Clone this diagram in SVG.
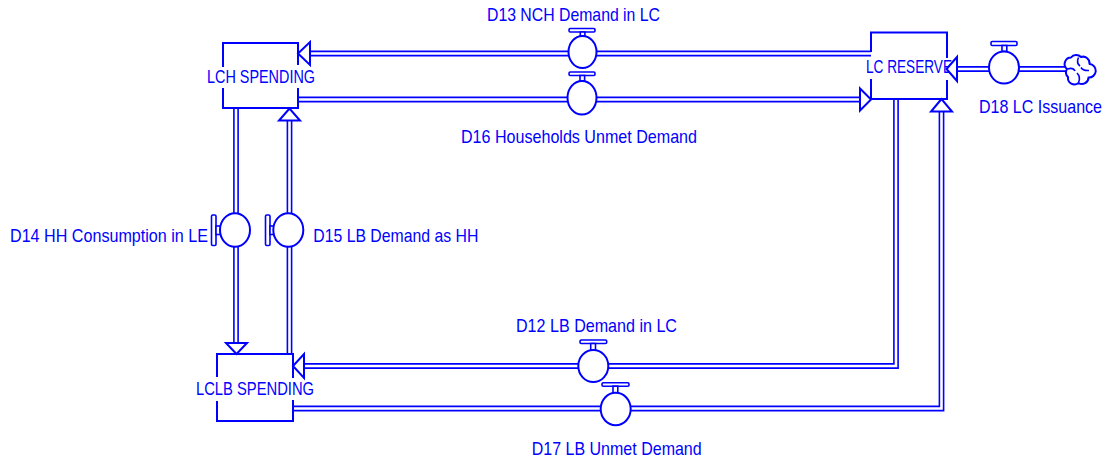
<svg xmlns="http://www.w3.org/2000/svg" width="1108" height="461" viewBox="0 0 1108 461">
<defs>
<style>
.pipeo{fill:none;stroke:#0000ff;stroke-width:5.8;stroke-linejoin:miter}
.pipei{fill:none;stroke:#ffffff;stroke-width:2.6;stroke-linejoin:miter}
.box{fill:none;stroke:#0000ff;stroke-width:2}
.arr{fill:#ffffff;stroke:#0000ff;stroke-width:2;stroke-linejoin:miter}
.vc{fill:#ffffff;stroke:#0000ff;stroke-width:2}
.vh{fill:#ffffff;stroke:#0000ff;stroke-width:1.6}
.cloud{fill:#ffffff;stroke:#0000ff;stroke-width:2;stroke-linejoin:round}
text{font-family:"Liberation Sans",Arial,sans-serif;font-size:18.5px;fill:#0000ff}
</style>
</defs>
<rect width="1108" height="461" fill="#ffffff"/>
<g id="connectors">
  <path id="p-d13" class="pipeo" d="M871,53.5 H310"/>
  <path class="pipei" d="M871,53.5 H310"/>
  <path id="p-d16" class="pipeo" d="M298,99.5 H860"/>
  <path class="pipei" d="M298,99.5 H860"/>
  <path id="p-d18" class="pipeo" d="M1067,69 H957"/>
  <path class="pipei" d="M1067,69 H957"/>
  <path id="p-d14" class="pipeo" d="M236,108.5 V343"/>
  <path class="pipei" d="M236,108.5 V343"/>
  <path id="p-d15" class="pipeo" d="M289.5,354 V120.5"/>
  <path class="pipei" d="M289.5,354 V120.5"/>
  <path id="p-d12" class="pipeo" d="M896,99 V366 H304"/>
  <path class="pipei" d="M896,99 V366 H304"/>
  <path id="p-d17" class="pipeo" d="M293,408.5 H941.5 V111.5"/>
  <path class="pipei" d="M293,408.5 H941.5 V111.5"/>
</g>
<g id="lch-spending">
  <path class="box" d="M223,67 V43 H298 V65 M298,88 V108 H223 V88"/>
  <text x="207" y="82.7" textLength="108" lengthAdjust="spacingAndGlyphs">LCH SPENDING</text>
</g>
<g id="lc-reserve">
  <path class="box" d="M871,52 V32.5 H947 V58 M947,80 V99 H871 V79"/>
  <text x="866" y="72.7" textLength="86" lengthAdjust="spacingAndGlyphs">LC RESERVE</text>
</g>
<g id="lclb-spending">
  <path class="box" d="M217,377 V354 H293 V378 M293,400 V421 H217 V401"/>
  <text x="196" y="395" textLength="118" lengthAdjust="spacingAndGlyphs">LCLB SPENDING</text>
</g>
<g id="arrowheads">
  <polygon class="arr" points="298,53.5 310,42 310,65"/>
  <polygon class="arr" points="871,99.5 860,88.5 860,110.5"/>
  <polygon class="arr" points="946.5,69 957,57 957,81"/>
  <polygon class="arr" points="236.5,354 226,343 247,343"/>
  <polygon class="arr" points="289.5,108.5 279,120.5 300,120.5"/>
  <polygon class="arr" points="293,366 304,354 304,378"/>
  <polygon class="arr" points="941.5,99 931,111.5 952,111.5"/>
</g>
<g id="cloud-d18">
  <path class="cloud" d="M1067,69 A6.5,6.5 0 0 1 1071,57.5 A6.5,6.5 0 0 1 1081,57 A6.5,6.5 0 0 1 1089.5,64 A6.5,6.5 0 0 1 1088.5,77.5 A6.5,6.5 0 0 1 1078.5,83 A6.5,6.5 0 0 1 1068,77 A6.5,6.5 0 0 1 1067,69 Z"/>
  <path fill="none" stroke="#0000ff" stroke-width="1.6" d="M1078.5,57.5 Q1076,63 1080,66 M1067.5,69 Q1073,67 1075,71 M1089,70.5 Q1083,71 1081,67.5 M1078.5,82.5 Q1081,77 1077,73"/>
</g>
<g id="valve-d13">
  <rect class="vh" x="569" y="28.5" width="26" height="3.5" rx="1.2"/>
  <rect class="vh" x="580.3" y="32" width="4.6" height="4.5"/>
  <ellipse class="vc" cx="582.5" cy="52" rx="14" ry="16"/>
  <text x="487" y="20.7" textLength="173" lengthAdjust="spacingAndGlyphs">D13 NCH Demand in LC</text>
</g>
<g id="valve-d16">
  <rect class="vh" x="569" y="72" width="26" height="3.5" rx="1.2"/>
  <rect class="vh" x="580" y="75.5" width="4.6" height="5.5"/>
  <ellipse class="vc" cx="582" cy="97.8" rx="14.5" ry="16.8"/>
  <text x="461" y="142.7" textLength="236" lengthAdjust="spacingAndGlyphs">D16 Households Unmet Demand</text>
</g>
<g id="valve-d18">
  <rect class="vh" x="991" y="41.5" width="26" height="4" rx="1.2"/>
  <rect class="vh" x="1002" y="45.5" width="4.8" height="6"/>
  <ellipse class="vc" cx="1004" cy="67.5" rx="15" ry="16"/>
  <text x="979" y="113.3" textLength="123" lengthAdjust="spacingAndGlyphs">D18 LC Issuance</text>
</g>
<g id="valve-d14">
  <rect class="vh" x="211.5" y="215" width="4.5" height="30.5" rx="1.2"/>
  <rect class="vh" x="216" y="226" width="4.5" height="8.5"/>
  <ellipse class="vc" cx="235" cy="230" rx="15" ry="16.7"/>
  <text x="10" y="241.7" textLength="198" lengthAdjust="spacingAndGlyphs">D14 HH Consumption in LE</text>
</g>
<g id="valve-d15">
  <rect class="vh" x="265.5" y="215" width="4.5" height="30.5" rx="1.2"/>
  <rect class="vh" x="270" y="226" width="3.8" height="8.5"/>
  <ellipse class="vc" cx="288.3" cy="230" rx="15" ry="16.7"/>
  <text x="313.3" y="241.7" textLength="165" lengthAdjust="spacingAndGlyphs">D15 LB Demand as HH</text>
</g>
<g id="valve-d12">
  <rect class="vh" x="580" y="340" width="26.7" height="3.5" rx="1.2"/>
  <rect class="vh" x="590.7" y="343.5" width="4.8" height="6.5"/>
  <ellipse class="vc" cx="593.3" cy="366" rx="15" ry="16"/>
  <text x="516" y="331.7" textLength="161" lengthAdjust="spacingAndGlyphs">D12 LB Demand in LC</text>
</g>
<g id="valve-d17">
  <rect class="vh" x="602" y="382.7" width="27" height="3.5" rx="1.2"/>
  <rect class="vh" x="613" y="386.2" width="4.8" height="6.6"/>
  <ellipse class="vc" cx="615.7" cy="409" rx="15" ry="16.2"/>
  <text x="531.7" y="455" textLength="170" lengthAdjust="spacingAndGlyphs">D17 LB Unmet Demand</text>
</g>
</svg>
